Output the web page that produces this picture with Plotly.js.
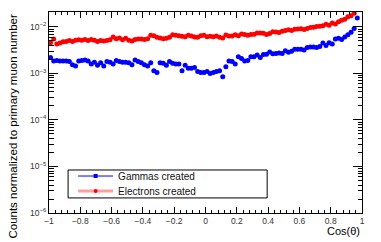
<!DOCTYPE html>
<html><head><meta charset="utf-8">
<script src="https://cdn.plot.ly/plotly-3.0.1.min.js"></script>
<style>html,body{margin:0;padding:0;background:#fff;overflow:hidden}</style>
</head><body><div id="chart" style="width:381px;height:242px"></div>
<script>
const cosTheta = [-0.99,-0.97,-0.95,-0.93,-0.91,-0.89,-0.87,-0.85,-0.83,-0.81,
-0.79,-0.77,-0.75,-0.73,-0.71,-0.69,-0.67,-0.65,-0.63,-0.61,
-0.59,-0.57,-0.55,-0.53,-0.51,-0.49,-0.47,-0.45,-0.43,-0.41,
-0.39,-0.37,-0.35,-0.33,-0.31,-0.29,-0.27,-0.25,-0.23,-0.21,
-0.19,-0.17,-0.15,-0.13,-0.11,-0.09,-0.07,-0.05,-0.03,-0.01,
0.01,0.03,0.05,0.07,0.09,0.11,0.13,0.15,0.17,0.19,
0.21,0.23,0.25,0.27,0.29,0.31,0.33,0.35,0.37,0.39,
0.41,0.43,0.45,0.47,0.49,0.51,0.53,0.55,0.57,0.59,
0.61,0.63,0.65,0.67,0.69,0.71,0.73,0.75,0.77,0.79,
0.81,0.83,0.85,0.87,0.89,0.91,0.93,0.95,0.97,0.99];

const electrons = [4.6e-3,5.5e-3,4.3e-3,4.5e-3,4.8e-3,4.9e-3,5.1e-3,4.9e-3,5.2e-3,5.3e-3,
5.2e-3,5.4e-3,5.1e-3,5.4e-3,5.2e-3,4.9e-3,5.1e-3,5.0e-3,5.1e-3,5.3e-3,
6.1e-3,5.6e-3,5.8e-3,5.3e-3,5.7e-3,5.2e-3,5.0e-3,5.4e-3,5.5e-3,5.5e-3,
5.4e-3,5.6e-3,6.6e-3,6.5e-3,6.0e-3,5.8e-3,5.6e-3,5.7e-3,6.0e-3,6.8e-3,
6.6e-3,6.5e-3,6.3e-3,6.2e-3,6.6e-3,6.4e-3,6.1e-3,6.0e-3,6.5e-3,6.6e-3,
6.2e-3,6.3e-3,6.2e-3,6.4e-3,6.0e-3,5.8e-3,6.7e-3,6.4e-3,6.4e-3,6.8e-3,
6.5e-3,7.1e-3,6.9e-3,6.6e-3,6.9e-3,7.0e-3,7.4e-3,7.4e-3,7.3e-3,6.9e-3,
7.2e-3,7.9e-3,7.8e-3,7.6e-3,8.1e-3,8.4e-3,8.7e-3,8.4e-3,8.9e-3,9.0e-3,
9.2e-3,8.8e-3,9.3e-3,9.8e-3,9.9e-3,10.2e-3,10.4e-3,10.6e-3,11.4e-3,10.9e-3,
12.1e-3,11.6e-3,13.0e-3,14.0e-3,14.6e-3,16.5e-3,17.5e-3,19.8e-3,25e-3,30e-3];

const gammas = [2.2e-3,1.85e-3,1.9e-3,1.85e-3,1.85e-3,1.85e-3,1.8e-3,1.55e-3,1.45e-3,1.85e-3,
1.9e-3,1.95e-3,1.85e-3,1.6e-3,1.75e-3,1.5e-3,1.7e-3,1.45e-3,1.8e-3,1.75e-3,
1.6e-3,1.9e-3,1.8e-3,1.75e-3,1.75e-3,1.7e-3,1.55e-3,1.95e-3,1.8e-3,1.7e-3,
1.55e-3,1.45e-3,1.7e-3,1.15e-3,1.05e-3,1.7e-3,1.65e-3,1.5e-3,1.8e-3,1.65e-3,
1.6e-3,1.6e-3,1.15e-3,1.5e-3,1.3e-3,1.3e-3,1.35e-3,1.1e-3,1.05e-3,1.05e-3,
1.1e-3,1.0e-3,1.05e-3,1.1e-3,1.15e-3,0.85e-3,1.4e-3,1.85e-3,1.8e-3,1.6e-3,
2.3e-3,2.1e-3,1.85e-3,1.9e-3,2.3e-3,2.3e-3,2.5e-3,2.2e-3,2.55e-3,2.6e-3,
2.9e-3,2.65e-3,2.7e-3,2.75e-3,2.7e-3,3.1e-3,2.85e-3,3.0e-3,3.3e-3,3.3e-3,
3.3e-3,3.2e-3,3.6e-3,3.7e-3,3.7e-3,3.6e-3,3.8e-3,4.5e-3,4.0e-3,4.6e-3,
4.3e-3,5.5e-3,5.7e-3,5.4e-3,6.1e-3,6.8e-3,7.7e-3,9.3e-3,15.5e-3,25e-3];

const yMajorVals = [1e-6,1e-5,1e-4,1e-3,1e-2];
const yMajorText = ['10<sup>−6</sup>','10<sup>−5</sup>','10<sup>−4</sup>','10<sup>−3</sup>','10<sup>−2</sup>'];
const yMinorVals = [2e-6,3e-6,4e-6,5e-6,6e-6,7e-6,8e-6,9e-6,
2e-5,3e-5,4e-5,5e-5,6e-5,7e-5,8e-5,9e-5,
2e-4,3e-4,4e-4,5e-4,6e-4,7e-4,8e-4,9e-4,
2e-3,3e-3,4e-3,5e-3,6e-3,7e-3,8e-3,9e-3,2e-2];

const FONT = 'Liberation Sans, Arial, Helvetica, sans-serif';

const traces = [
  {x: cosTheta, y: gammas, type: 'scatter', mode: 'markers', showlegend: false, cliponaxis: true,
   marker: {color: 'rgb(0,0,255)', size: 5, symbol: 'circle'}},
  {x: cosTheta, y: electrons, type: 'scatter', mode: 'markers', showlegend: false, cliponaxis: true,
   marker: {color: 'rgb(255,0,0)', size: 5, symbol: 'circle'}},
  {x: [null], y: [null], type: 'scatter', mode: 'lines+markers', name: 'Gammas created', legend: 'legend',
   line: {color: 'rgb(0,0,255)', width: 1}, marker: {color: 'rgb(0,0,255)', size: 4, symbol: 'square'}},
  {x: [null], y: [null], type: 'scatter', mode: 'lines+markers', name: 'Electrons created', legend: 'legend2',
   line: {color: 'rgb(255,160,160)', width: 3}, marker: {color: 'rgb(255,0,0)', size: 4, symbol: 'circle'}}
];

const legStyle = {xanchor: 'left', yanchor: 'middle', bgcolor: 'rgba(0,0,0,0)', borderwidth: 0,
  font: {family: FONT, size: 10, color: '#111'}, itemwidth: 35};

const layout = {
  width: 381, height: 242,
  margin: {l: 49, r: 19, t: 12, b: 29, pad: 0},
  paper_bgcolor: '#fff', plot_bgcolor: '#fff',
  font: {family: FONT, size: 9, color: '#000'},
  showlegend: true,
  legend: Object.assign({x: 0.077, y: 0.184}, legStyle),
  legend2: Object.assign({x: 0.077, y: 0.109}, legStyle),
  xaxis: {range: [-1, 1], showgrid: false, zeroline: false, showline: true, linecolor: '#000', linewidth: 1,
    mirror: 'ticks', ticks: 'inside', ticklen: 6, tickcolor: '#000', dtick: 0.2, tick0: -1,
    tickfont: {family: FONT, size: 8.5, color: '#333'},
    minor: {dtick: 0.04, tick0: -1, ticklen: 3, ticks: 'inside', tickcolor: '#000', showgrid: false}},
  yaxis: {type: 'log', range: [-6, -1.678], showgrid: false, zeroline: false, showline: true,
    linecolor: '#000', linewidth: 1, mirror: 'ticks', ticks: 'inside', ticklen: 9, tickcolor: '#000',
    tickmode: 'array', tickvals: yMajorVals, ticktext: yMajorText,
    tickfont: {family: FONT, size: 8.5, color: '#333'},
    minor: {tickmode: 'array', tickvals: yMinorVals, ticklen: 4.5, ticks: 'inside', tickcolor: '#000', showgrid: false}},
  shapes: [{type: 'rect', xref: 'paper', yref: 'paper', x0: 0.061, x1: 0.697, y0: 0.075, y1: 0.214,
    line: {color: '#000', width: 1}, fillcolor: 'rgba(0,0,0,0)'}],
  annotations: [
    {text: 'Counts normalized to primary muon number', xref: 'paper', yref: 'paper', x: -0.118, y: 1.0,
     xanchor: 'center', yanchor: 'top', textangle: -90, showarrow: false, font: {family: FONT, size: 11.5, color: '#000'}},
    {text: 'Cos(θ)', xref: 'paper', yref: 'paper', x: 1, y: -0.09, xanchor: 'right', yanchor: 'middle',
     showarrow: false, font: {family: FONT, size: 11, color: '#000'}}
  ]
};

Plotly.newPlot('chart', traces, layout, {staticPlot: true, displayModeBar: false});
</script></body></html>
